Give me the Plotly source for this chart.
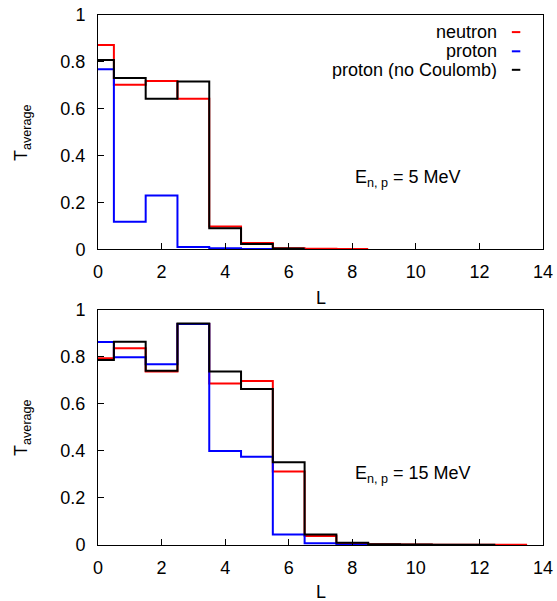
import plotly.graph_objects as go
from plotly.subplots import make_subplots

# ---- data: average transmission per partial wave L ----
# Panel 1: E = 5 MeV
L5_neutron = [0, 1, 2, 3, 4, 5, 6, 7, 8]
T5_neutron = [0.872, 0.702, 0.718, 0.643, 0.097, 0.027, 0.004, 0.002, 0.001]
L5_proton = [0, 1, 2, 3, 4, 5, 6]
T5_proton = [0.768, 0.117, 0.230, 0.010, 0.004, 0.001, 0.0005]
L5_nocoul = [0, 1, 2, 3, 4, 5, 6]
T5_nocoul = [0.808, 0.731, 0.643, 0.716, 0.090, 0.022, 0.003]

# Panel 2: E = 15 MeV
L15_neutron = [0, 1, 2, 3, 4, 5, 6, 7, 8, 9, 10, 11, 12, 13]
T15_neutron = [0.795, 0.837, 0.738, 0.940, 0.687, 0.698, 0.313, 0.038, 0.007,
               0.003, 0.002, 0.001, 0.001, 0.001]
L15_proton = [0, 1, 2, 3, 4, 5, 6, 7, 8, 9]
T15_proton = [0.864, 0.799, 0.769, 0.940, 0.400, 0.376, 0.045, 0.007, 0.001, 0.0005]
L15_nocoul = [0, 1, 2, 3, 4, 5, 6, 7, 8, 9, 10, 11, 12]
T15_nocoul = [0.787, 0.865, 0.742, 0.943, 0.738, 0.664, 0.352, 0.045, 0.010,
              0.003, 0.002, 0.001, 0.001]

series_names = ["neutron", "proton", "proton (no Coulomb)"]
energy_labels = ["E<sub>n, p</sub> = 5 MeV", "E<sub>n, p</sub> = 15 MeV"]
x_title = "L"
y_title = "T<sub>average</sub>"
x_ticks = [0, 2, 4, 6, 8, 10, 12, 14]
y_ticks = [0, 0.2, 0.4, 0.6, 0.8, 1]

colors = ["#ff0000", "#0000ff", "#000000"]
FONT = "Liberation Sans, Arial, sans-serif"
FS = 18


def histeps(L, T):
    # step edges at L +/- 0.5 (gnuplot 'histeps' style)
    xs = [l - 0.5 for l in L] + [L[-1] + 0.5]
    ys = list(T) + [T[-1]]
    return xs, ys


fig = make_subplots(rows=2, cols=1, vertical_spacing=0.115)

panels = [
    [(L5_neutron, T5_neutron), (L5_proton, T5_proton), (L5_nocoul, T5_nocoul)],
    [(L15_neutron, T15_neutron), (L15_proton, T15_proton), (L15_nocoul, T15_nocoul)],
]

for r, panel in enumerate(panels, start=1):
    for (L, T), name, c in zip(panel, series_names, colors):
        xs, ys = histeps(L, T)
        fig.add_trace(go.Scatter(x=xs, y=ys, mode="lines", line_shape="hv",
                                 line=dict(color=c, width=2), name=name,
                                 showlegend=False, hoverinfo="skip"),
                      row=r, col=1)

axis_common = dict(showgrid=False, zeroline=False, showline=True, linecolor="black",
                   linewidth=1, mirror=True, ticks="inside", ticklen=6,
                   tickcolor="black", tickwidth=1, automargin=False,
                   tickfont=dict(family=FONT, size=FS, color="black"))

for r in (1, 2):
    fig.update_xaxes(range=[0, 14], tickvals=x_ticks, ticklabelstandoff=6,
                     row=r, col=1, **axis_common)
    fig.update_yaxes(range=[0, 1], tickvals=y_ticks, ticklabelstandoff=8,
                     row=r, col=1, **axis_common)

fig.update_yaxes(domain=[0.558, 1.0], row=1, col=1)
fig.update_yaxes(domain=[0.0, 0.4434], row=2, col=1)

tfont = dict(family=FONT, size=FS, color="black")
annotations = []
shapes = []
# legend (text right-aligned, short line sample on the right) in top panel
leg_y = [0.927, 0.845, 0.766]
for name, c, yy in zip(series_names, colors, leg_y):
    annotations.append(dict(text=name, xref="x domain", yref="y domain", x=0.902, y=yy,
                            xanchor="right", yanchor="middle", showarrow=False,
                            height=18, font=tfont))
    shapes.append(dict(type="line", xref="x domain", yref="y domain",
                       x0=0.930, x1=0.949, y0=yy, y1=yy,
                       line=dict(color=c, width=2)))

annotations.append(dict(text=energy_labels[0], xref="x domain", yref="y domain",
                        x=0.572, y=0.30, xanchor="left", yanchor="middle", showarrow=False,
                        font=tfont))
annotations.append(dict(text=energy_labels[1], xref="x2 domain", yref="y2 domain",
                        x=0.572, y=0.30, xanchor="left", yanchor="middle", showarrow=False,
                        font=tfont))

# axis titles
for ly in (0.4651, -0.0896):
    annotations.append(dict(text=x_title, xref="paper", yref="paper", x=0.5, y=ly,
                            xanchor="center", yanchor="middle", showarrow=False,
                            font=tfont))
for ty in (0.779, 0.2226):
    annotations.append(dict(text=y_title, xref="paper", yref="paper", x=-0.171, y=ty,
                            xanchor="center", yanchor="middle", showarrow=False,
                            textangle=-90, font=tfont))

fig.update_layout(width=557, height=601,
                  margin=dict(l=98, r=14, t=15, b=56),
                  plot_bgcolor="white", paper_bgcolor="white",
                  annotations=annotations, shapes=shapes,
                  font=tfont)

fig.write_html("out.html", config={"displayModeBar": False},
               post_script="document.body.style.margin='0';"
                           "document.body.style.overflow='hidden';")
